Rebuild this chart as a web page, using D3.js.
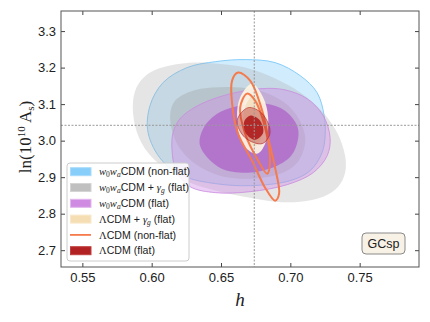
<!DOCTYPE html>
<html>
<head>
<meta charset="utf-8">
<script src="https://cdn.jsdelivr.net/npm/d3@7"></script>
<style>
  html, body { margin: 0; padding: 0; background: #fff; }
  svg { display: block; }
</style>
</head>
<body>
<svg id="chart" width="430" height="322"></svg>
<script>
// ---- data (h, ln(10^10 A_s)) ----
const xTicks = [0.55, 0.60, 0.65, 0.70, 0.75];
const xTickLabels = ["0.55", "0.60", "0.65", "0.70", "0.75"];
const yTicks = [2.7, 2.8, 2.9, 3.0, 3.1, 3.2, 3.3];
const yTickLabels = ["2.7", "2.8", "2.9", "3.0", "3.1", "3.2", "3.3"];
const fiducialH = 0.674;
const fiducialLnAs = 3.042;

// contour outlines
const blueOuter = [[0.5974,3.0219],[0.5988,3.0959],[0.6082,3.1589],[0.6255,3.2000],[0.6462,3.2164],[0.6674,3.2219],[0.6890,3.2137],[0.7071,3.1780],[0.7193,3.1315],[0.7244,3.0685],[0.7251,3.0137],[0.7229,2.9671],[0.7143,2.9178],[0.6999,2.8904],[0.6710,2.8767],[0.6462,2.8822],[0.6241,2.9014],[0.6075,2.9452]];
const grayOuter = [[0.5866,3.1096],[0.5902,3.1534],[0.5988,3.1863],[0.6133,3.2055],[0.6314,3.2137],[0.6462,3.2110],[0.6674,3.2000],[0.6890,3.1699],[0.7071,3.1315],[0.7237,3.0767],[0.7338,3.0219],[0.7395,2.9589],[0.7395,2.9123],[0.7345,2.8740],[0.7237,2.8466],[0.7071,2.8329],[0.6890,2.8329],[0.6710,2.8438],[0.6494,2.8603],[0.6277,2.8849],[0.6097,2.9233],[0.5952,2.9780],[0.5880,3.0411]];
const grayInner = [[0.6133,3.0685],[0.6169,3.1096],[0.6277,3.1342],[0.6443,3.1452],[0.6638,3.1452],[0.6818,3.1315],[0.6984,3.0959],[0.7085,3.0411],[0.7107,2.9945],[0.7049,2.9397],[0.6926,2.9096],[0.6710,2.8959],[0.6494,2.9041],[0.6314,2.9370],[0.6183,2.9918]];
const purpleOuter = [[0.6147,2.9726],[0.6154,3.0219],[0.6205,3.0603],[0.6320,3.0932],[0.6472,3.1178],[0.6638,3.1342],[0.6797,3.1425],[0.6954,3.1397],[0.7121,3.1150],[0.7237,3.0685],[0.7287,3.0082],[0.7266,2.9589],[0.7165,2.9123],[0.6977,2.8795],[0.6710,2.8603],[0.6462,2.8575],[0.6277,2.8740],[0.6176,2.9178]];
const purpleInner = [[0.6349,2.9863],[0.6371,3.0329],[0.6462,3.0712],[0.6638,3.0959],[0.6818,3.1014],[0.6962,3.0822],[0.7049,3.0411],[0.7056,3.0055],[0.7006,2.9589],[0.6869,2.9260],[0.6652,2.9123],[0.6479,2.9288]];
const creamOuter = [[0.6724,3.1562],[0.6804,3.1178],[0.6840,3.0630],[0.6818,2.9918],[0.6760,2.9644],[0.6652,2.9918],[0.6616,3.0630],[0.6638,3.1178]];
const creamInner = [[0.6732,3.1233],[0.6797,3.0767],[0.6797,3.0137],[0.6739,2.9836],[0.6674,3.0219],[0.6667,3.0822]];
const orangeOuter = [[0.6623,3.1863],[0.6710,3.1644],[0.6797,3.0822],[0.6840,3.0082],[0.6890,2.9260],[0.6919,2.8548],[0.6890,2.8356],[0.6818,2.8712],[0.6724,2.9452],[0.6623,3.0192],[0.6580,3.1014],[0.6580,3.1644]];
const orangeInner = [[0.6688,3.1288],[0.6746,3.1096],[0.6818,3.0356],[0.6854,2.9452],[0.6833,2.9096],[0.6768,2.9452],[0.6674,3.0192],[0.6638,3.0904]];
const redOuter = [[0.6616,3.0548],[0.6696,3.0904],[0.6797,3.0740],[0.6854,3.0219],[0.6797,2.9918],[0.6674,3.0082]];
const redInner = [[0.6710,3.0685],[0.6782,3.0548],[0.6804,3.0219],[0.6746,3.0027],[0.6681,3.0192],[0.6667,3.0520]];

// ---- layout ----
const svg = d3.select("#chart");
const L = 61, R = 419, T = 11, B = 267;
const x = d3.scaleLinear().domain([0.5346, 0.7928]).range([L, R]);
const y = d3.scaleLinear().domain([2.654, 3.355]).range([B, T]);

svg.append("defs").append("clipPath").attr("id", "clip")
  .append("rect").attr("x", L).attr("y", T).attr("width", R - L).attr("height", B - T);

const g = svg.append("g").attr("clip-path", "url(#clip)");
const line = d3.line().x(d => x(d[0])).y(d => y(d[1])).curve(d3.curveCatmullRomClosed.alpha(0.5));

function region(pts, fill, op, stroke, sw) {
  g.append("path").attr("d", line(pts))
    .attr("fill", fill).attr("fill-opacity", op)
    .attr("stroke", stroke || "none").attr("stroke-width", sw || 0);
}

// blue: w0waCDM non-flat
region(blueOuter, "#87cefa", 0.38, "#87cefa", 1);
// gray: w0waCDM + gamma flat
region(grayOuter, "#a8a8a8", 0.3, "none");
region(grayInner, "#9a9a9a", 0.33, "none");
// purple: w0waCDM flat
region(purpleOuter, "#d28ce6", 0.42, "#c98ade", 0.8);
region(purpleInner, "#a850c4", 0.6, "none");
// cream: LCDM + gamma flat
region(creamOuter, "#fdf3e1", 0.93, "none");
region(creamInner, "#f3dfbd", 0.85, "none");
// orange lines: LCDM non-flat
region(orangeOuter, "none", 0, "#f57a4c", 2);
region(orangeInner, "none", 0, "#f57a4c", 2);
// red: LCDM flat
region(redOuter, "#b22222", 0.38, "#b22222", 0.6);
region(redInner, "#b01e1e", 0.92, "none");

// fiducial lines
svg.append("line").attr("x1", x(fiducialH)).attr("x2", x(fiducialH)).attr("y1", T).attr("y2", B)
  .attr("stroke", "#999").attr("stroke-width", 1).attr("stroke-dasharray", "2,1.5");
svg.append("line").attr("x1", L).attr("x2", R).attr("y1", y(fiducialLnAs)).attr("y2", y(fiducialLnAs))
  .attr("stroke", "#999").attr("stroke-width", 1).attr("stroke-dasharray", "2,1.5");

// axes
const tickFont = "'Liberation Sans', Arial, sans-serif";
const axB = svg.append("g").attr("transform", `translate(0,${B})`)
  .call(d3.axisBottom(x).tickValues(xTicks).tickFormat((d, i) => xTickLabels[i]).tickSizeInner(-4).tickSizeOuter(0).tickPadding(6));
const axT = svg.append("g").attr("transform", `translate(0,${T})`)
  .call(d3.axisTop(x).tickValues(xTicks).tickFormat("").tickSizeInner(-4).tickSizeOuter(0));
const axL = svg.append("g").attr("transform", `translate(${L},0)`)
  .call(d3.axisLeft(y).tickValues(yTicks).tickFormat((d, i) => yTickLabels[i]).tickSizeInner(-4).tickSizeOuter(0).tickPadding(5));
const axR = svg.append("g").attr("transform", `translate(${R},0)`)
  .call(d3.axisRight(y).tickValues(yTicks).tickFormat("").tickSizeInner(-4).tickSizeOuter(0));
[axB, axT, axL, axR].forEach(a => {
  a.select(".domain").remove();
  a.selectAll(".tick line").attr("stroke", "#444");
  a.selectAll(".tick text").attr("fill", "#222").style("font-family", tickFont).style("font-size", "13px");
});

svg.append("rect").attr("x", L).attr("y", T).attr("width", R - L).attr("height", B - T)
  .attr("fill", "none").attr("stroke", "#555").attr("stroke-width", 1);

// axis labels
const serif = "'Liberation Serif', 'DejaVu Serif', serif";
svg.append("text").attr("x", 240).attr("y", 306).attr("text-anchor", "middle")
  .style("font-family", serif).style("font-style", "italic").style("font-size", "19px").attr("fill", "#222").text("h");

const yl = svg.append("text").attr("transform", "translate(31,137) rotate(-90)").attr("text-anchor", "middle")
  .style("font-family", serif).style("font-size", "17px").attr("fill", "#222");
yl.append("tspan").text("ln(10");
yl.append("tspan").attr("dy", -6).style("font-size", "11px").text("10");
yl.append("tspan").attr("dy", 6).text(" A");
yl.append("tspan").attr("dy", 3).style("font-size", "11px").text("s");
yl.append("tspan").attr("dy", -3).text(")");

// GCsp box
svg.append("rect").attr("x", 362).attr("y", 233).attr("width", 43).attr("height", 21).attr("rx", 4)
  .attr("fill", "#f8f1e6").attr("stroke", "#8a8a8a").attr("stroke-width", 1);
svg.append("text").attr("x", 383.5).attr("y", 248).attr("text-anchor", "middle")
  .style("font-family", tickFont).style("font-size", "12.5px").attr("fill", "#222").text("GCsp");

// legend
const lg = svg.append("g");
lg.append("rect").attr("x", 67).attr("y", 163).attr("width", 122).attr("height", 98).attr("rx", 3)
  .attr("fill", "#fff").attr("fill-opacity", 0.85).attr("stroke", "#cccccc").attr("stroke-width", 1);
const rowY = i => 171.7 + i * 15.8;
const swatches = [
  {fill: "#87cefa", stroke: "#a9dcfb"},
  {fill: "#c0c0c0", stroke: "#d4d4d4"},
  {fill: "#cf8be2", stroke: "#e2b6ee"},
  {fill: "#f5deb3", stroke: "#f8e8ca"},
  {line: "#f57a4c"},
  {fill: "#b22222", stroke: "#c04040"}
];
swatches.forEach((s, i) => {
  if (s.line) {
    lg.append("line").attr("x1", 70).attr("x2", 91).attr("y1", rowY(i)).attr("y2", rowY(i))
      .attr("stroke", s.line).attr("stroke-width", 1.8);
  } else {
    lg.append("rect").attr("x", 70.5).attr("y", rowY(i) - 4).attr("width", 20.5).attr("height", 8)
      .attr("fill", s.fill).attr("stroke", s.stroke).attr("stroke-width", 1);
  }
});
const sans = "'Liberation Sans', Arial, sans-serif";
const subSize = "7.5px";
function w0wa(t) {
  t.append("tspan").style("font-family", serif).style("font-style", "italic").text("w");
  t.append("tspan").style("font-family", serif).attr("dy", 2).style("font-size", subSize).text("0");
  t.append("tspan").style("font-family", serif).style("font-style", "italic").attr("dy", -2).text("w");
  t.append("tspan").style("font-family", serif).style("font-style", "italic").attr("dy", 2).style("font-size", subSize).text("a");
}
function gamma(t) {
  t.append("tspan").style("font-family", serif).style("font-style", "italic").text("γ");
  t.append("tspan").style("font-family", serif).style("font-style", "italic").attr("dy", 2).style("font-size", subSize).text("g");
}
function legendText(i) {
  return lg.append("text").attr("x", 99).attr("y", rowY(i) + 3.6)
    .style("font-family", sans).style("font-size", "10.6px").attr("fill", "#222");
}
let t;
t = legendText(0); w0wa(t); t.append("tspan").attr("dy", -2).text("CDM (non-flat)");
t = legendText(1); w0wa(t); t.append("tspan").attr("dy", -2).text("CDM + ");
gamma(t); t.append("tspan").attr("dy", -2).text(" (flat)");
t = legendText(2); w0wa(t); t.append("tspan").attr("dy", -2).text("CDM (flat)");
t = legendText(3); t.append("tspan").style("font-family", serif).text("Λ");
t.append("tspan").text("CDM + ");
gamma(t); t.append("tspan").attr("dy", -2).text(" (flat)");
t = legendText(4); t.append("tspan").style("font-family", serif).text("Λ"); t.append("tspan").text("CDM (non-flat)");
t = legendText(5); t.append("tspan").style("font-family", serif).text("Λ"); t.append("tspan").text("CDM (flat)");
</script>
</body>
</html>
